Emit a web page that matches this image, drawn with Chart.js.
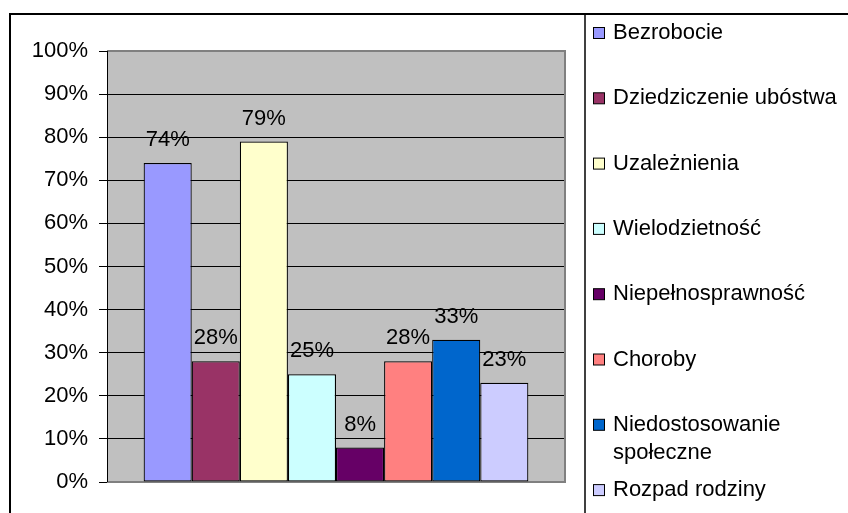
<!DOCTYPE html>
<html>
<head>
<meta charset="utf-8">
<script src="https://cdn.jsdelivr.net/npm/chart.js@4/dist/chart.umd.min.js"></script>
<style>
html,body{margin:0;padding:0;background:#fff;}
#wrap{width:848px;height:513px;position:relative;}
</style>
</head>
<body>
<div id="wrap"><canvas id="c" width="848" height="513"></canvas></div>
<script>
const categories = [''];
const seriesNames = [
  'Bezrobocie',
  'Dziedziczenie ubóstwa',
  'Uzależnienia',
  'Wielodzietność',
  'Niepełnosprawność',
  'Choroby',
  ['Niedostosowanie', 'społeczne'],
  'Rozpad rodziny'
];
const seriesValues = [74, 28, 79, 25, 8, 28, 33, 23];
const seriesColors = ['#9999FF', '#993366', '#FFFFCC', '#CCFFFF', '#660066', '#FF8080', '#0066CC', '#CCCCFF'];
const yTicks = [0, 10, 20, 30, 40, 50, 60, 70, 80, 90, 100];

const FONT = '"Liberation Sans", Arial, sans-serif';
const FSIZE = 22;

const datasets = seriesNames.map((name, i) => ({
  label: name,
  data: [seriesValues[i]],
  backgroundColor: seriesColors[i],
  borderColor: '#000',
  borderWidth: 1.2,
  borderSkipped: false,
  barPercentage: 1,
  categoryPercentage: 0.84
}));

const framePlugin = {
  id: 'frame',
  beforeDraw(chart) {
    const ctx = chart.ctx, a = chart.chartArea;
    ctx.save();
    ctx.fillStyle = '#fff';
    ctx.fillRect(0, 0, chart.width, chart.height);
    ctx.fillStyle = '#C0C0C0';
    ctx.fillRect(a.left, a.top, a.right - a.left, a.bottom - a.top);
    ctx.restore();
  },
  beforeDatasetsDraw(chart) {
    const ctx = chart.ctx, a = chart.chartArea;
    ctx.save();
    ctx.strokeStyle = '#808080';
    ctx.lineWidth = 2;
    ctx.beginPath();
    ctx.moveTo(a.left, a.top);
    ctx.lineTo(a.right, a.top);
    ctx.lineTo(a.right, a.bottom);
    ctx.lineTo(a.left, a.bottom);
    ctx.stroke();
    ctx.strokeStyle = '#000';
    ctx.lineWidth = 1;
    ctx.beginPath();
    ctx.moveTo(a.left + 0.5, a.top);
    ctx.lineTo(a.left + 0.5, a.bottom);
    ctx.stroke();
    ctx.restore();
  },
  afterDatasetsDraw(chart) {
    const ctx = chart.ctx;
    ctx.save();
    ctx.font = FSIZE + 'px ' + FONT;
    ctx.fillStyle = '#000';
    ctx.textAlign = 'center';
    ctx.textBaseline = 'alphabetic';
    chart.data.datasets.forEach((ds, i) => {
      const bar = chart.getDatasetMeta(i).data[0];
      ctx.fillText(ds.data[0] + '%', bar.x, bar.y - 17);
    });
    ctx.restore();
  },
  afterDraw(chart) {
    const ctx = chart.ctx;
    ctx.save();
    // outer border and legend separator
    ctx.strokeStyle = '#000';
    ctx.lineWidth = 2;
    ctx.beginPath();
    ctx.moveTo(10, chart.height);
    ctx.lineTo(10, 14);
    ctx.lineTo(chart.width, 14);
    ctx.stroke();
    ctx.lineWidth = 1.5;
    ctx.beginPath();
    ctx.moveTo(585, 14);
    ctx.lineTo(585, chart.height);
    ctx.stroke();
    // legend
    ctx.font = FSIZE + 'px ' + FONT;
    ctx.textAlign = 'left';
    ctx.textBaseline = 'middle';
    chart.data.datasets.forEach((ds, i) => {
      const y = 33 + i * 65.3;
      ctx.fillStyle = ds.backgroundColor;
      ctx.fillRect(593.5, y - 5.5, 11, 11);
      ctx.strokeStyle = '#000';
      ctx.lineWidth = 1;
      ctx.strokeRect(593.5, y - 5.5, 11, 11);
      ctx.fillStyle = '#000';
      const lines = Array.isArray(ds.label) ? ds.label : [ds.label];
      lines.forEach((t, k) => ctx.fillText(t, 613, y + k * 28));
    });
    ctx.restore();
  }
};

new Chart(document.getElementById('c'), {
  type: 'bar',
  data: { labels: categories, datasets },
  options: {
    responsive: false,
    devicePixelRatio: 1,
    animation: false,
    layout: { padding: { left: 0, top: 51, right: 283, bottom: 31 } },
    plugins: { legend: { display: false }, tooltip: { enabled: false } },
    scales: {
      x: { display: false },
      y: {
        min: 0,
        max: 100,
        afterFit(scale) { scale.width = 107; },
        afterBuildTicks(scale) { scale.ticks = yTicks.map(v => ({ value: v })); },
        border: { display: false },
        grid: { color: '#000', lineWidth: 1, tickLength: 8, tickColor: '#000' },
        ticks: {
          padding: 11,
          color: '#000',
          font: { family: FONT, size: FSIZE },
          callback: v => v + '%'
        }
      }
    }
  },
  plugins: [framePlugin]
});
</script>
</body>
</html>
